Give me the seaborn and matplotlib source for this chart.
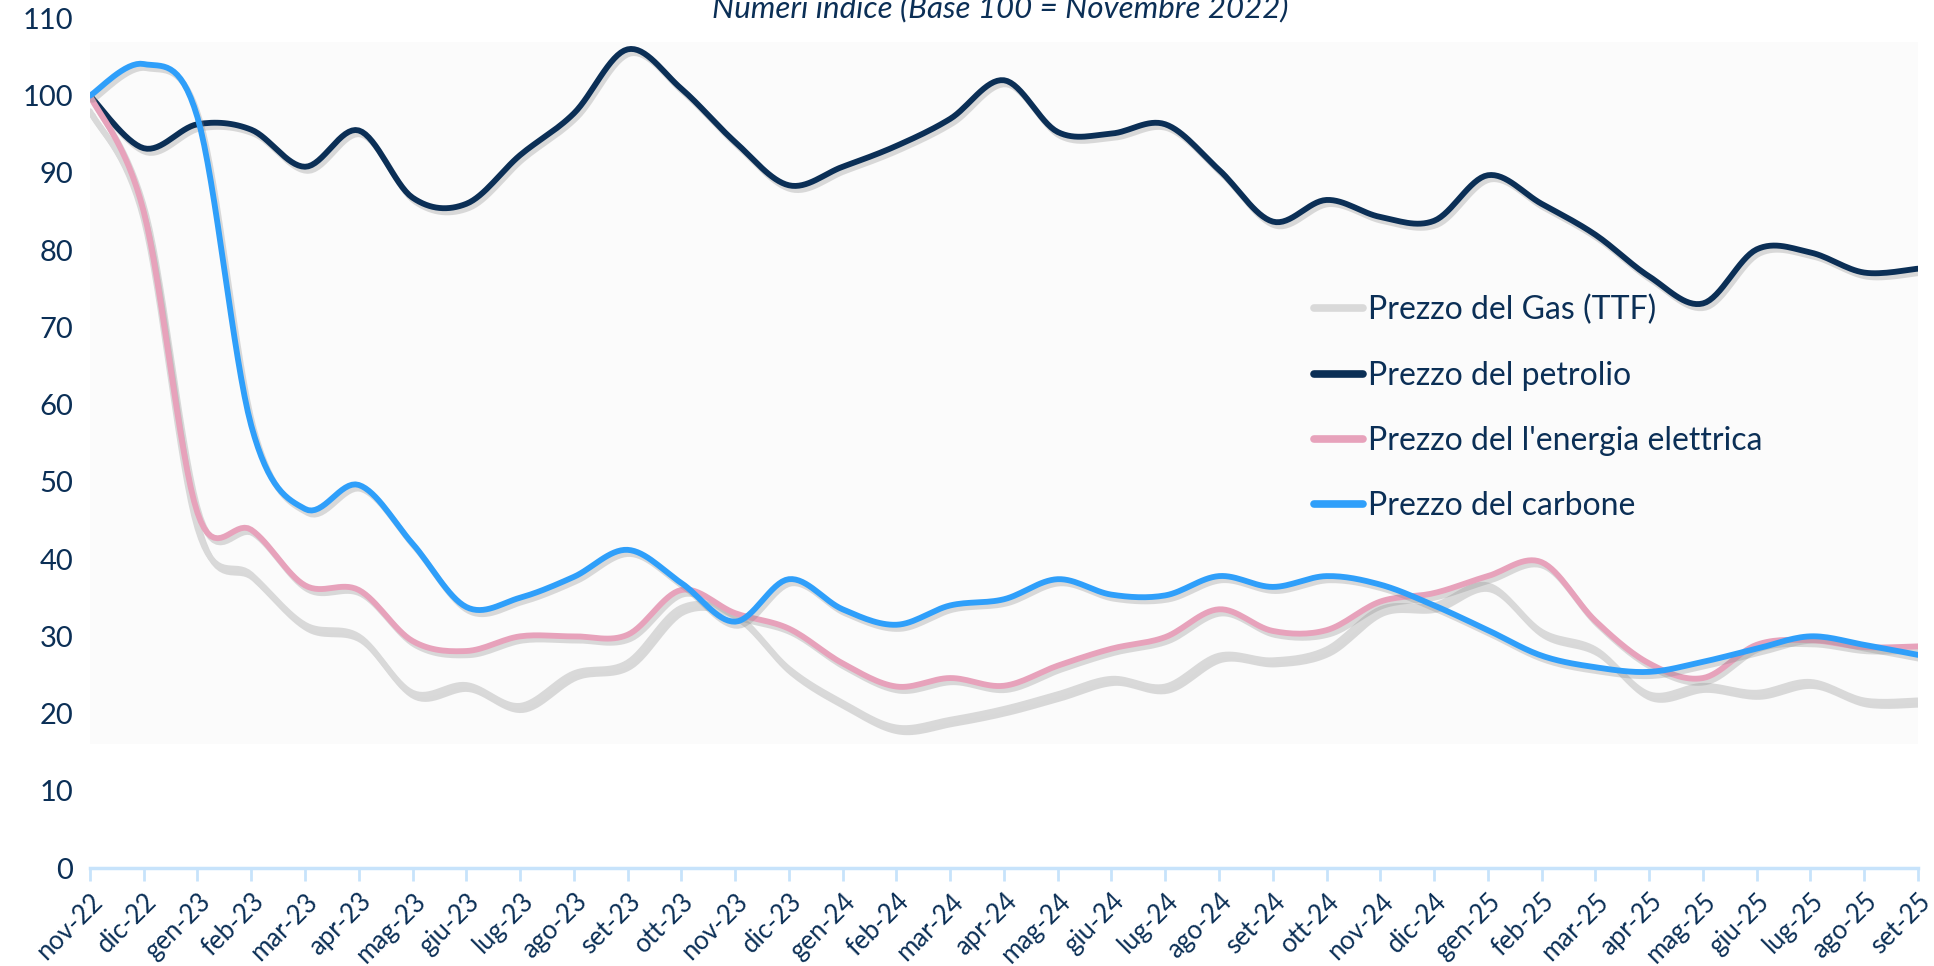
import numpy as np
import pandas as pd
import matplotlib
matplotlib.use("Agg")
import matplotlib.pyplot as plt
import matplotlib.patheffects as pe
import seaborn as sns

sns.set_theme(style="white")
plt.rcParams['font.family'] = ['Lato', 'DejaVu Sans']

# --- dati (numeri indice, base 100 = novembre 2022) ---
mesi = ["nov-22", "dic-22", "gen-23", "feb-23", "mar-23", "apr-23", "mag-23", "giu-23",
        "lug-23", "ago-23", "set-23", "ott-23", "nov-23", "dic-23", "gen-24", "feb-24",
        "mar-24", "apr-24", "mag-24", "giu-24", "lug-24", "ago-24", "set-24", "ott-24",
        "nov-24", "dic-24", "gen-25", "feb-25", "mar-25", "apr-25", "mag-25", "giu-25",
        "lug-25", "ago-25", "set-25"]

gas = [98, 84, 44, 38, 31.5, 30, 22.7, 23.7, 21, 25.2, 26.6, 33.7, 32.8, 25.8, 21.4, 18.2,
       19.2, 20.6, 22.5, 24.5, 23.5, 27.5, 26.9, 28.3, 33.5, 34, 36.6, 30.6, 28.3, 22.5,
       23.6, 22.7, 24.1, 21.7, 21.7]
petrolio = [100, 93.2, 96.3, 95.6, 90.8, 95.5, 86.8, 86, 92.3, 97.7, 106, 100.9, 94, 88.4,
            90.8, 93.5, 97, 102, 95.3, 95.1, 96.3, 90.4, 83.7, 86.5, 84.3, 83.8, 89.7, 86,
            82, 76.6, 73.1, 80.1, 79.7, 77.1, 77.6]
energia = [100, 85, 46, 43.8, 36.6, 36, 29.4, 28.1, 30, 30, 30.2, 36, 33, 31, 26.5, 23.5,
           24.6, 23.6, 26.2, 28.4, 29.9, 33.5, 30.7, 30.8, 34.5, 35.6, 37.8, 39.6, 32,
           26.5, 24.6, 28.9, 29.5, 28.6, 28.7]
carbone = [100, 104.1, 97.2, 57.3, 46.5, 49.6, 42, 33.8, 35, 37.7, 41.2, 36.9, 31.9, 37.4,
           33.5, 31.5, 34, 34.8, 37.4, 35.4, 35.3, 37.8, 36.4, 37.8, 36.7, 34, 30.8, 27.5,
           26, 25.4, 26.7, 28.4, 30, 28.9, 27.6]

serie = [("Prezzo del Gas (TTF)", gas, "#d9d9d9"),
         ("Prezzo del petrolio", petrolio, "#0b2f56"),
         ("Prezzo del l'energia elettrica", energia, "#e7a2bb"),
         ("Prezzo del carbone", carbone, "#2f9ffa")]

NAVY = "#0b2f56"
ASSE = "#c7e3fb"


def curva_liscia(y, passi=16):
    """Curva smussata (stile Excel, Catmull-Rom) che passa per i punti dati."""
    y = np.asarray(y, dtype=float)
    x = np.arange(len(y), dtype=float)
    p = np.concatenate([[y[0]], y, [y[-1]]])
    q = np.concatenate([[x[0]], x, [x[-1]]])
    t = np.linspace(0, 1, passi, endpoint=False)
    xs, ys = [], []
    for i in range(len(y) - 1):
        for arr, out in ((q, xs), (p, ys)):
            p0, p1, p2, p3 = arr[i], arr[i + 1], arr[i + 2], arr[i + 3]
            out.extend(0.5 * ((2 * p1) + (-p0 + p2) * t + (2 * p0 - 5 * p1 + 4 * p2 - p3) * t ** 2
                              + (-p0 + 3 * p1 - 3 * p2 + p3) * t ** 3))
    xs.append(x[-1]); ys.append(y[-1])
    return np.array(xs), np.array(ys)


fig = plt.figure(figsize=(19.34, 9.66), dpi=100)
ax = fig.add_axes([0.0465, 0.1014, 0.9452, 0.8795])

# pannello di sfondo leggermente grigio
ax.axhspan(16, 107, color="#fbfbfb", zorder=0, lw=0)

ombra = [pe.SimpleLineShadow(offset=(2, -3), shadow_color="#8a8a8a", alpha=0.3), pe.Normal()]
for nome, valori, colore in serie:
    xs, ys = curva_liscia(valori)
    df = pd.DataFrame({"x": xs, "y": ys})
    sns.lineplot(data=df, x="x", y="y", ax=ax, color=colore, lw=4.2, sort=False,
                 label=nome, solid_capstyle="round", path_effects=ombra, zorder=3)

ax.set_xlim(0, len(mesi) - 1)
ax.set_ylim(0, 110)
ax.set_yticks(np.arange(0, 111, 10))
ax.set_xticks(np.arange(len(mesi)))
ax.set_xticklabels(mesi, rotation=45, ha="right", rotation_mode="anchor")
ax.set_xlabel("")
ax.set_ylabel("")
ax.tick_params(axis="y", length=0, pad=12, labelsize=21, labelcolor=NAVY)
ax.tick_params(axis="x", length=9, width=2, color=ASSE, direction="out", pad=6,
               labelsize=18.5, labelcolor=NAVY, bottom=True)
for lato in ("top", "right", "left"):
    ax.spines[lato].set_visible(False)
ax.spines["bottom"].set_color(ASSE)
ax.spines["bottom"].set_linewidth(2.5)
ax.grid(False)
ax.set_facecolor("none")

leg = ax.legend(loc="upper left", bbox_to_anchor=(0.671, 0.711), bbox_transform=fig.transFigure,
                frameon=False, fontsize=23, handlelength=1.55, handletextpad=0.15,
                labelspacing=1.1, borderpad=0)
for t in leg.get_texts():
    t.set_color(NAVY)
for h in leg.get_lines():
    h.set_linewidth(5.5)
    h.set_solid_capstyle("round")
    h.set_path_effects([])

fig.text(0.517, 0.982, "Numeri indice (Base 100 = Novembre 2022)", ha="center", va="baseline",
         fontsize=22.5, style="italic", color=NAVY)

fig.savefig("out.png", dpi=100)
